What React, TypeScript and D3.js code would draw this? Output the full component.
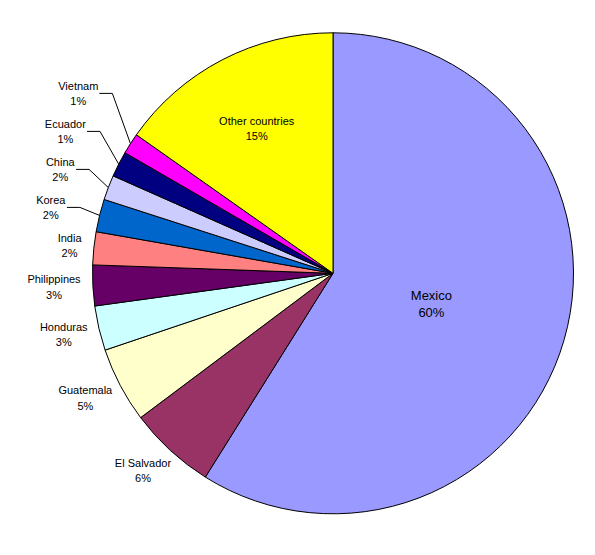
import React, { useEffect, useRef } from 'react';
import * as d3 from 'd3';

const countries = ['Mexico', 'El Salvador', 'Guatemala', 'Honduras', 'Philippines', 'India', 'Korea', 'China', 'Ecuador', 'Vietnam', 'Other countries'];
const shares = [58.9, 5.85, 5.07, 3.0, 2.73, 2.21, 2.2, 1.67, 1.72, 1.41, 15.23];
const pctLabels = ['60%', '6%', '5%', '3%', '3%', '2%', '2%', '2%', '1%', '1%', '15%'];
const colors = ['#9999FF', '#993366', '#FFFFCC', '#CCFFFF', '#660066', '#FF8080', '#0066CC', '#CCCCFF', '#000080', '#FF00FF', '#FFFF00'];

const W = 595;
const H = 555;

export default function App() {
  const ref = useRef<SVGSVGElement>(null);

  useEffect(() => {
    const cx = 333, cy = 273.3, r = 240.5;
    const gap = 12, boxH = 30, minSpacing = 38;
    const svg = d3.select(ref.current);
    svg.selectAll('*').remove();
    svg.append('rect').attr('width', W).attr('height', H).attr('fill', '#fff');

    const pie = d3.pie<number>().sort(null).value(d => d);
    const arcs = pie(shares);
    const arc = d3.arc<d3.PieArcDatum<number>>().innerRadius(0).outerRadius(r);
    const g = svg.append('g').attr('transform', `translate(${cx},${cy})`);

    g.selectAll('path.slice')
      .data(arcs)
      .join('path')
      .attr('class', 'slice')
      .attr('d', arc as any)
      .attr('fill', (_d, i) => colors[i])
      .attr('stroke', '#000')
      .attr('stroke-width', 1)
      .attr('stroke-linejoin', 'round');

    const font = 'Liberation Sans, Arial, sans-serif';
    const makeText = (i: number, big: boolean) => {
      const t = g.append('text')
        .attr('font-family', font)
        .attr('font-size', big ? 13 : 11)
        .attr('fill', '#000')
        .attr('text-anchor', 'middle');
      t.append('tspan').attr('x', 0).attr('y', big ? -2 : -3.5).text(countries[i]);
      t.append('tspan').attr('x', 0).attr('y', big ? 14.7 : 12).text(pctLabels[i]);
      return t;
    };

    type Lab = { i: number; t: any; w: number; x: number; y: number; ux: number; uy: number; ax: number; moved: boolean };
    const outside: Lab[] = [];

    arcs.forEach((d, i) => {
      const mid = (d.startAngle + d.endAngle) / 2;
      const ux = Math.sin(mid), uy = -Math.cos(mid);
      const span = d.endAngle - d.startAngle;
      const big = span > Math.PI;
      const t = makeText(i, big);
      if (shares[i] >= 10) {
        const k = big ? 0.43 : 0.68;
        t.attr('transform', `translate(${ux * r * k - 1},${uy * r * k})`);
      } else {
        const w = (t.node() as SVGTextElement).getBBox().width;
        const ax = ux * (r + gap), ay = uy * (r + gap);
        outside.push({ i, t, w, x: ax + ux * w / 2, y: ay + uy * boxH / 2, ux, uy, ax, moved: false });
      }
    });

    // relax label positions going up the left side
    for (let j = 1; j < outside.length; j++) {
      const prev = outside[j - 1], cur = outside[j];
      if (prev.y - cur.y < minSpacing) {
        cur.y = prev.y - minSpacing;
        cur.moved = true;
      }
    }

    outside.forEach(l => {
      if (l.moved) {
        const ex = l.ax - 8;
        const hx = ex - 13;
        const px = l.ux * r, py = l.uy * r;
        g.append('polyline')
          .attr('points', `${px},${py} ${ex},${l.y} ${hx},${l.y}`)
          .attr('fill', 'none')
          .attr('stroke', '#000')
          .attr('stroke-width', 1);
        l.x = hx - 1 - l.w / 2;
      }
      l.t.attr('transform', `translate(${l.x},${l.y})`);
    });
  }, []);

  return (
    <svg ref={ref} width={W} height={H} style={{ position: 'absolute', left: 0, top: 0 }} />
  );
}
